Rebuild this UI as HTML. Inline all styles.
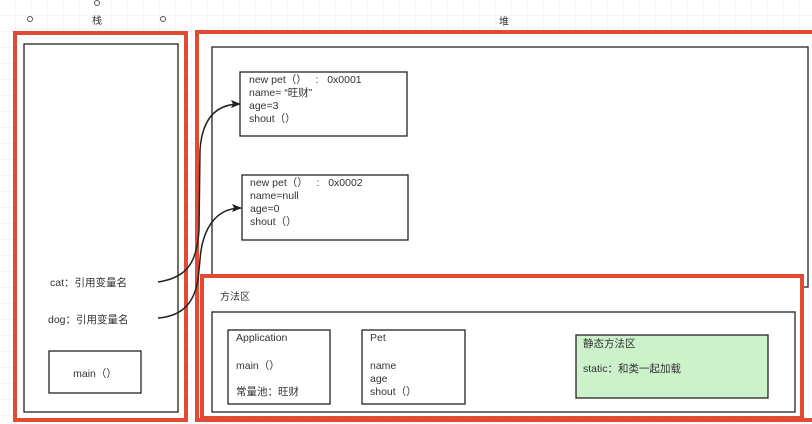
<!DOCTYPE html>
<html><head><meta charset="utf-8"><style>
body{margin:0;width:812px;height:424px;overflow:hidden;background:#fff;}
svg{display:block;font-family:"Liberation Sans","Noto Sans CJK SC",sans-serif;}
text{white-space:pre;}
</style></head><body>
<svg width="812" height="424" viewBox="0 0 812 424">
<defs>
<pattern id="g" width="16" height="16" patternUnits="userSpaceOnUse"><path d="M16 0V16H0" fill="none" stroke="#ececec" stroke-width="1"/></pattern>
<marker id="a" markerWidth="10" markerHeight="8" refX="9" refY="4" orient="auto" markerUnits="userSpaceOnUse"><path d="M0 0L10 4L0 8L2 4Z" fill="#222"/></marker>
</defs>
<rect width="812" height="424" fill="url(#g)"/>
<g fill="#fff" stroke="#555" stroke-width="1">
<circle cx="30" cy="19" r="2.5"/><circle cx="97" cy="3" r="2.5"/><circle cx="163" cy="19" r="2.5"/><circle cx="97" cy="36" r="2.5"/>
</g>
<text x="97" y="24" font-size="10" text-anchor="middle" fill="#333">栈</text>
<text x="504" y="25" font-size="10" text-anchor="middle" fill="#333">堆</text>
<rect x="15" y="33" width="171" height="387" fill="#fff" stroke="#e24a33" stroke-width="4"/>
<rect x="24" y="44" width="154" height="368" fill="#fff" stroke="#222" stroke-width="1.3"/>
<text x="50" y="286" font-size="10.5" fill="#333">cat：引用变量名</text>
<text x="48" y="323" font-size="10.5" fill="#333">dog：引用变量名</text>
<rect x="49" y="351" width="92" height="42" fill="#fff" stroke="#222" stroke-width="1.3"/>
<text x="95" y="377" font-size="10.5" text-anchor="middle" fill="#333">main（）</text>
<rect x="197" y="32" width="617" height="388" fill="#fff" stroke="#e24a33" stroke-width="4"/>
<rect x="212" y="47" width="596" height="240" fill="#fff" stroke="#222" stroke-width="1.3"/>
<rect x="240" y="72" width="167" height="64" fill="#fff" stroke="#222" stroke-width="1.3"/>
<g font-size="10.5" fill="#333">
<text x="249" y="83">new pet（）   :   0x0001</text>
<text x="249" y="96">name= “旺财”</text>
<text x="249" y="109">age=3</text>
<text x="249" y="122">shout（）</text>
</g>
<rect x="242" y="175" width="166" height="65" fill="#fff" stroke="#222" stroke-width="1.3"/>
<g font-size="10.5" fill="#333">
<text x="250" y="186">new pet（）   :   0x0002</text>
<text x="250" y="199">name=null</text>
<text x="250" y="212">age=0</text>
<text x="250" y="225">shout（）</text>
</g>
<rect x="202" y="276" width="600" height="142" fill="#fff" stroke="#e24a33" stroke-width="4"/>
<text x="220" y="300" font-size="10" fill="#333">方法区</text>
<rect x="212" y="312" width="583" height="100" fill="#fff" stroke="#222" stroke-width="1.3"/>
<rect x="228" y="330" width="102" height="74" fill="#fff" stroke="#222" stroke-width="1.3"/>
<g font-size="10.5" fill="#333">
<text x="236" y="341">Application</text>
<text x="236" y="369">main（）</text>
<text x="236" y="395">常量池：旺财</text>
</g>
<rect x="362" y="330" width="103" height="74" fill="#fff" stroke="#222" stroke-width="1.3"/>
<g font-size="10.5" fill="#333">
<text x="370" y="341">Pet</text>
<text x="370" y="369">name</text>
<text x="370" y="382">age</text>
<text x="370" y="395">shout（）</text>
</g>
<rect x="576" y="335" width="192" height="63" fill="#ccf2cc" stroke="#222" stroke-width="1.3"/>
<g font-size="10.5" fill="#333">
<text x="583" y="347">静态方法区</text>
<text x="583" y="372">static：和类一起加载</text>
</g>
<path d="M158 282C185 278 197 265 199 230L200 150C202 120 215 104 240 104" fill="none" stroke="#222" stroke-width="1.5" marker-end="url(#a)"/>
<path d="M158 318C185 316 197 300 199 270L200 260C202 230 215 208 241 208" fill="none" stroke="#222" stroke-width="1.5" marker-end="url(#a)"/>
</svg>
</body></html>
